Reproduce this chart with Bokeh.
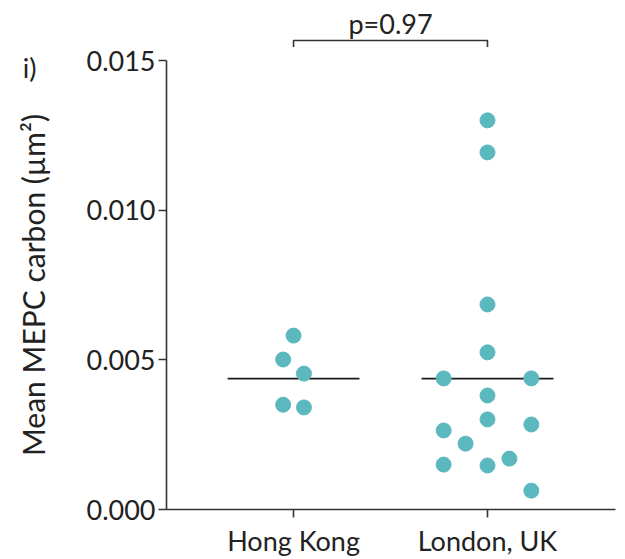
from bokeh.plotting import figure
from bokeh.models import ColumnDataSource, FixedTicker, LinearAxis
from bokeh.layouts import column
from bokeh.core.properties import value
from bokeh.embed import file_html
from bokeh.resources import INLINE

groups = ["Hong Kong", "London, UK"]
hk_values = [0.00581, 0.00501, 0.00454, 0.00350, 0.00341]
hk_slot = [0, -0.5, 0.5, -0.5, 0.5]
london_values = [0.01300, 0.01193, 0.00685, 0.00525, 0.00438, 0.00438, 0.00381,
                 0.00301, 0.00284, 0.00264, 0.00220, 0.00170, 0.00150, 0.00147, 0.00063]
london_slot = [0, 0, 0, 0, -2, 2, 0, 0, 2, -2, -1, 1, -2, 0, 2]
group_means = [0.00437, 0.00437]
y_ticks = [0.0, 0.005, 0.010, 0.015]
p_label = "p=0.97"
panel_label = "i)"
y_title = "Mean MEPC carbon (µm²)"

FONT = "Lato"
FS = "27px"
TEXT = "#222222"
AX = "#333333"
DOT = "#5BB8BF"
SLOT_W = 0.113

x_range_vals = (-0.655, 1.66)
TOP_H = 47

# ---------- main panel ----------
p = figure(width=617, frame_width=449, frame_height=449,
           x_range=x_range_vals, y_range=(0, 0.015),
           output_backend="svg", toolbar_location=None,
           min_border_left=166, min_border_right=2, min_border_top=60 - TOP_H,
           min_border_bottom=40)
p.grid.visible = False
p.outline_line_color = None

p.yaxis.ticker = FixedTicker(ticks=y_ticks)
p.yaxis.major_label_overrides = {t: f"{t:.3f}" for t in y_ticks}
p.xaxis.ticker = FixedTicker(ticks=[0, 1])
p.xaxis.major_label_overrides = {i: g for i, g in enumerate(groups)}
for ax in (p.xaxis, p.yaxis):
    ax.axis_line_color = AX
    ax.axis_line_width = 1.6
    ax.major_tick_line_color = AX
    ax.major_tick_line_width = 1.6
    ax.major_tick_out = 8
    ax.major_tick_in = 0
    ax.minor_tick_line_color = None
    ax.major_label_text_font = FONT
    ax.major_label_text_font_size = FS
    ax.major_label_text_color = TEXT
p.yaxis.major_label_standoff = 3
p.xaxis.major_label_standoff = 6
p.yaxis.axis_label = y_title
p.yaxis.axis_label_text_font = FONT
p.yaxis.axis_label_text_font_size = "30px"
p.yaxis.axis_label_text_font_style = "normal"
p.yaxis.axis_label_text_color = TEXT
p.yaxis.axis_label_standoff = 32

# panel label "i)" as an extra, line-less left axis beside the 0.015 tick
pax = LinearAxis(ticker=FixedTicker(ticks=[y_ticks[-1]]),
                 major_label_overrides={y_ticks[-1]: panel_label},
                 axis_line_color=None, major_tick_line_color=None,
                 minor_tick_line_color=None, major_tick_out=0, major_tick_in=0,
                 major_label_standoff=-24,
                 major_label_text_font=FONT, major_label_text_font_size=FS,
                 major_label_text_color=TEXT)
p.add_layout(pax, "left")

# mean lines
for i, m in enumerate(group_means):
    p.line([i - 0.34, i + 0.34], [m, m], line_color="#1a1a1a", line_width=1.8)

# dots
xs = [0 + s * SLOT_W * 0.95 for s in hk_slot] + [1 + s * SLOT_W for s in london_slot]
ys = hk_values + london_values
src = ColumnDataSource(dict(x=xs, y=ys))
p.scatter("x", "y", source=src, size=15, fill_color=DOT, line_color=DOT)

# ---------- bracket panel ----------
t = figure(width=617, frame_width=449, frame_height=TOP_H,
           x_range=p.x_range, y_range=(0, TOP_H),
           x_axis_type=None, y_axis_type=None,
           output_backend="svg", toolbar_location=None,
           min_border_left=166, min_border_right=2, min_border_top=0, min_border_bottom=0)
t.grid.visible = False
t.outline_line_color = None
yb = TOP_H - 40
t.line([0, 0, 1, 1], [0.5, yb, yb, 0.5], line_color=AX, line_width=1.6)
t.text(x=[0.5], y=[TOP_H - 23], text=[p_label], text_align="center", text_baseline="middle",
       text_font=value(FONT), text_font_size=FS, text_color=TEXT)

layout = column(t, p, spacing=0)
open("out.html", "w").write(file_html(layout, INLINE))
